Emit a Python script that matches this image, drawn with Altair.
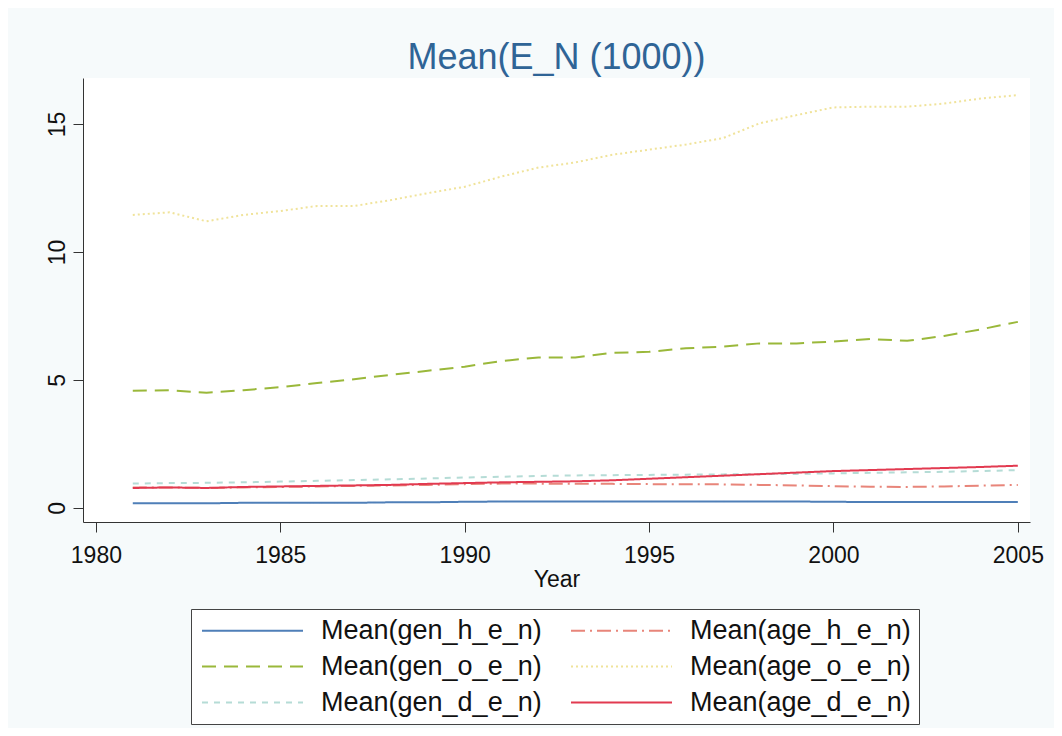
import altair as alt
import pandas as pd

years = list(range(1981, 2006))
gen_h = [0.18,0.18,0.18,0.2,0.2,0.2,0.2,0.22,0.22,0.24,0.25,0.25,0.25,0.25,0.25,0.25,0.25,0.25,0.25,0.24,0.23,0.23,0.23,0.23,0.23]
gen_o = [4.58,4.6,4.5,4.6,4.72,4.88,5.03,5.2,5.36,5.52,5.74,5.88,5.88,6.06,6.1,6.24,6.3,6.43,6.43,6.5,6.6,6.53,6.72,6.98,7.27]
gen_d = [0.95,0.97,0.98,1.0,1.03,1.06,1.09,1.12,1.15,1.19,1.22,1.25,1.27,1.28,1.29,1.3,1.31,1.32,1.33,1.35,1.37,1.39,1.41,1.44,1.48]
age_h = [0.8,0.8,0.78,0.8,0.82,0.84,0.86,0.88,0.9,0.93,0.95,0.95,0.94,0.94,0.93,0.93,0.92,0.9,0.88,0.85,0.83,0.82,0.84,0.87,0.9]
age_o = [11.45,11.55,11.2,11.45,11.6,11.8,11.8,12.03,12.3,12.55,12.95,13.3,13.5,13.8,14.0,14.2,14.45,15.03,15.35,15.65,15.68,15.68,15.8,16.0,16.13]
age_d = [0.78,0.8,0.78,0.82,0.84,0.86,0.88,0.9,0.94,0.97,1.0,1.02,1.04,1.08,1.14,1.2,1.26,1.32,1.38,1.44,1.48,1.52,1.56,1.6,1.65]

series = {
    "Mean(gen_h_e_n)": gen_h,
    "Mean(gen_o_e_n)": gen_o,
    "Mean(gen_d_e_n)": gen_d,
    "Mean(age_h_e_n)": age_h,
    "Mean(age_o_e_n)": age_o,
    "Mean(age_d_e_n)": age_d,
}
names = list(series.keys())
colors = ["#4f7fb8", "#9ab83a", "#b5dcd6", "#e8857a", "#f0e39a", "#e23a50"]
dashes = [[1, 0], [14, 8], [6, 6], [14, 5, 2, 5], [2, 3], [1, 0]]

rows = []
for n, vals in series.items():
    for y, v in zip(years, vals):
        rows.append({"Year": y, "value": v, "series": n})
df = pd.DataFrame(rows)

FONT = "Liberation Sans"

chart = alt.Chart(df).mark_line(strokeWidth=2).encode(
    x=alt.X("Year:Q", title="Year",
            scale=alt.Scale(domain=[1979.65, 2005.33], nice=False, zero=False),
            axis=alt.Axis(values=[1980, 1985, 1990, 1995, 2000, 2005], format="d",
                          grid=False, tickSize=10, labelFontSize=23, titleFontSize=23,
                          titleFontWeight="normal", labelColor="#111", titleColor="#111",
                          domainColor="#333", tickColor="#333", labelPadding=12, titlePadding=1,
                          labelFont=FONT, titleFont=FONT)),
    y=alt.Y("value:Q", title=None,
            scale=alt.Scale(domain=[-0.55, 16.8], nice=False, zero=False),
            axis=alt.Axis(values=[0, 5, 10, 15], grid=False, tickSize=10, labelFontSize=23,
                          labelAngle=270, labelColor="#111", domainColor="#333", tickColor="#333",
                          labelPadding=4, labelFont=FONT)),
    color=alt.Color("series:N", sort=names,
                    scale=alt.Scale(domain=names, range=colors),
                    legend=alt.Legend(title=None, orient="none", legendX=108, legendY=531,
                                      columns=2, symbolType="M-5.05,0H5.05", symbolSize=400,
                                      symbolStrokeWidth=2, symbolOffset=40,
                                      labelFontSize=27, labelLimit=400,
                                      labelFont=FONT, labelColor="#111",
                                      columnPadding=25, rowPadding=8, labelOffset=55,
                                      strokeColor="#444", fillColor="white", padding=8)),
    strokeDash=alt.StrokeDash("series:N", sort=names,
                              scale=alt.Scale(domain=names, range=dashes), legend=None),
).properties(
    width=947, height=444,
    title=alt.TitleParams("Mean(E_N (1000))", fontSize=36, fontWeight="normal",
                          color="#2f6496", font=FONT, offset=1),
    autosize=alt.AutoSizeParams(type="none"),
    padding={"left": 75, "top": 70, "right": 24, "bottom": 206},
    background="#f6fafb",
).configure_view(fill="white", stroke=None)

chart.save("out.html", embed_options={"renderer": "svg", "actions": False})
